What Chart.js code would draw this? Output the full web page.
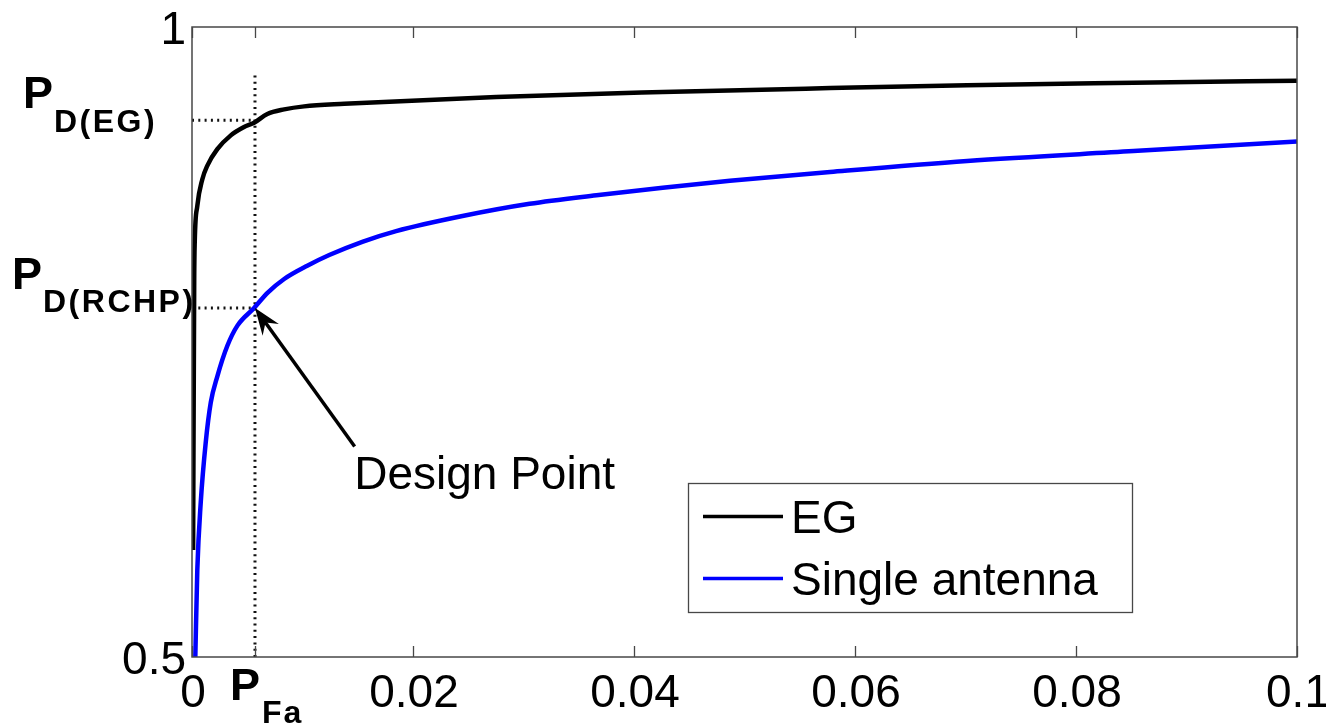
<!DOCTYPE html>
<html><head><meta charset="utf-8">
<script src="https://cdn.jsdelivr.net/npm/chart.js@4.4.1/dist/chart.umd.min.js"></script>
<style>html,body{margin:0;padding:0;background:#fff;overflow:hidden}canvas{display:block}</style>
</head><body>
<canvas id="c" width="1326" height="725"></canvas>
<script>
// ---- data ----
const egPfa = [0.0001, 0.0002, 0.00025, 0.00048, 0.00093, 0.00139, 0.00229, 0.00351, 0.00471, 0.00562, 0.00682, 0.00834, 0.01015, 0.01378, 0.02753, 0.0426, 0.05775, 0.07015, 0.0852, 0.1];
const egPd  = [0.585, 0.80, 0.83, 0.858, 0.879, 0.890, 0.903, 0.914, 0.9206, 0.924, 0.931, 0.9346, 0.937, 0.939, 0.9445, 0.9484, 0.9515, 0.9538, 0.9557, 0.9574];
const singlePfa = [0.0003, 0.00048, 0.00079, 0.00124, 0.0017, 0.0023, 0.0032, 0.00411, 0.00562, 0.00683, 0.00834, 0.01043, 0.01242, 0.01541, 0.01847, 0.02448, 0.03055, 0.0366, 0.0426, 0.04868, 0.05775, 0.07015, 0.0852, 0.1];
const singlePd  = [0.5, 0.569, 0.6225, 0.670, 0.702, 0.723, 0.747, 0.763, 0.777, 0.789, 0.800, 0.8105, 0.819, 0.8295, 0.838, 0.850, 0.8597, 0.8665, 0.8725, 0.8780, 0.8850, 0.8937, 0.9015, 0.9091];
const seriesNames = ['EG', 'Single antenna'];
const designPfa = 0.0057;
const designPdEG = 0.926;
const designPdRCHP = 0.777;
const guideTop = 0.964;
const xTickValues = [0, designPfa, 0.02, 0.04, 0.06, 0.08, 0.1];
const xTickLabels = ['0', 'P_{Fa}', '0.02', '0.04', '0.06', '0.08', '0.1'];
const yTickValues = [0.5, designPdRCHP, designPdEG, 1];
const yTickLabels = ['0.5', 'P_{D(RCHP)}', 'P_{D(EG)}', '1'];
const annotationText = 'Design Point';
const annotationAnchor = [0.01468, 0.633];
const arrowTail = [0.01472, 0.667];

// ---- styles ----
const FONT = '"Liberation Sans", Arial, Helvetica, sans-serif';
const AXIS_COLOR = '#474747';
const sty = {
  xLabelBaseline: 707,
  yLabelRight: 186,
  composite: {
    'P_{Fa}':      {dx: -25, mainBase: 700, subDx: 32, subBase: 723},
    'P_{D(RCHP)}': {x: 12, mainBase: 289, subDx: 31, subBase: 312},
    'P_{D(EG)}':   {x: 23, mainBase: 108, subDx: 31, subBase: 131.5}
  },
  legend: {left: 688, top: 483, width: 444, height: 129, lineX0: 703, lineX1: 783, textX: 791, rows: [533, 595]}
};

function parseLabel(s) {
  const m = s.match(/^(.*?)_\{(.*)\}$/);
  return m ? {main: m[1], sub: m[2]} : null;
}

const decor = {
  id: 'decor',
  afterDatasetsDraw(chart) {
    const {ctx, chartArea: a, scales: {x, y}} = chart;
    ctx.save();
    // box
    ctx.strokeStyle = AXIS_COLOR;
    ctx.lineWidth = 1.5;
    ctx.strokeRect(a.left, a.top, a.right - a.left, a.bottom - a.top);
    // inward x ticks top and bottom
    ctx.lineWidth = 1.3;
    xTickValues.forEach(v => {
      const px = Math.round(x.getPixelForValue(v)) + 0.5;
      ctx.beginPath();
      ctx.moveTo(px, a.bottom); ctx.lineTo(px, a.bottom - 11);
      ctx.moveTo(px, a.top); ctx.lineTo(px, a.top + 11);
      ctx.stroke();
    });
    ctx.fillStyle = '#000';
    // x tick labels
    xTickValues.forEach((v, i) => {
      const px = x.getPixelForValue(v);
      const lab = xTickLabels[i];
      const c = parseLabel(lab);
      if (c) {
        const s = sty.composite[lab];
        ctx.textAlign = 'left'; ctx.textBaseline = 'alphabetic';
        ctx.font = 'bold 45px ' + FONT;
        ctx.fillText(c.main, px + s.dx, s.mainBase);
        ctx.font = 'bold 32px ' + FONT;
        ctx.letterSpacing = '2px';
        ctx.fillText(c.sub, px + s.dx + s.subDx, s.subBase);
        ctx.letterSpacing = '0px';
      } else {
        ctx.font = '46px ' + FONT;
        ctx.textAlign = 'center'; ctx.textBaseline = 'alphabetic';
        ctx.fillText(lab, px + 1, sty.xLabelBaseline);
      }
    });
    // y tick labels
    yTickValues.forEach((v, i) => {
      const py = y.getPixelForValue(v);
      const lab = yTickLabels[i];
      const c = parseLabel(lab);
      if (c) {
        const s = sty.composite[lab];
        ctx.textAlign = 'left'; ctx.textBaseline = 'alphabetic';
        ctx.font = 'bold 45px ' + FONT;
        ctx.fillText(c.main, s.x, s.mainBase);
        ctx.font = 'bold 32px ' + FONT;
        ctx.letterSpacing = '2.5px';
        ctx.fillText(c.sub, s.x + s.subDx, s.subBase);
        ctx.letterSpacing = '0px';
      } else {
        ctx.font = '46px ' + FONT;
        ctx.textAlign = 'right'; ctx.textBaseline = 'alphabetic';
        ctx.fillText(lab, sty.yLabelRight, py + 16.5);
      }
    });
    // arrow annotation
    const tx = x.getPixelForValue(designPfa), ty = y.getPixelForValue(designPdRCHP);
    const sx = x.getPixelForValue(arrowTail[0]), sy = y.getPixelForValue(arrowTail[1]);
    const dx = sx - tx, dy = sy - ty, L = Math.hypot(dx, dy);
    const ux = dx / L, uy = dy / L, nx = -uy, ny = ux;
    ctx.strokeStyle = '#000';
    ctx.lineWidth = 3.5;
    ctx.beginPath();
    ctx.moveTo(sx, sy); ctx.lineTo(tx + ux * 16, ty + uy * 16);
    ctx.stroke();
    ctx.beginPath();
    ctx.moveTo(tx, ty);
    ctx.lineTo(tx + ux * 27 + nx * 10, ty + uy * 27 + ny * 10);
    ctx.lineTo(tx + ux * 18, ty + uy * 18);
    ctx.lineTo(tx + ux * 27 - nx * 10, ty + uy * 27 - ny * 10);
    ctx.closePath();
    ctx.fillStyle = '#000';
    ctx.fill();
    ctx.font = '46px ' + FONT;
    ctx.textAlign = 'left'; ctx.textBaseline = 'alphabetic';
    ctx.fillText(annotationText, x.getPixelForValue(annotationAnchor[0]), y.getPixelForValue(annotationAnchor[1]));
    // legend
    const lg = sty.legend;
    ctx.fillStyle = '#fff';
    ctx.fillRect(lg.left, lg.top, lg.width, lg.height);
    ctx.strokeStyle = AXIS_COLOR;
    ctx.lineWidth = 1.3;
    ctx.strokeRect(lg.left + 0.5, lg.top + 0.5, lg.width, lg.height);
    seriesNames.forEach((name, i) => {
      const ds = chart.data.datasets[i];
      const base = lg.rows[i];
      ctx.strokeStyle = ds.borderColor;
      ctx.lineWidth = 3.5;
      ctx.beginPath();
      ctx.moveTo(lg.lineX0, base - 16.5); ctx.lineTo(lg.lineX1, base - 16.5);
      ctx.stroke();
      ctx.fillStyle = '#000';
      ctx.font = '46px ' + FONT;
      ctx.fillText(name, lg.textX, base);
    });
    ctx.restore();
  }
};

const guideStyle = {borderColor: '#111', borderWidth: 3, borderDash: [2, 4.3], pointRadius: 0, fill: false};
new Chart(document.getElementById('c'), {
  type: 'line',
  data: {
    datasets: [
      {label: seriesNames[0], data: egPfa.map((v, i) => ({x: v, y: egPd[i]})), borderColor: '#000000', borderWidth: 4.5, pointRadius: 0, cubicInterpolationMode: 'monotone', fill: false, order: 1},
      {label: seriesNames[1], data: singlePfa.map((v, i) => ({x: v, y: singlePd[i]})), borderColor: '#0000ff', borderWidth: 4.5, pointRadius: 0, cubicInterpolationMode: 'monotone', fill: false, order: 2},
      Object.assign({label: 'g1', data: [{x: designPfa, y: 0.5}, {x: designPfa, y: guideTop}], order: 3}, guideStyle),
      Object.assign({label: 'g2', data: [{x: 0, y: designPdEG}, {x: designPfa, y: designPdEG}], order: 3}, guideStyle),
      Object.assign({label: 'g3', data: [{x: 0, y: designPdRCHP}, {x: designPfa, y: designPdRCHP}], order: 3}, guideStyle)
    ]
  },
  options: {
    responsive: false, animation: false, devicePixelRatio: 1,
    layout: {padding: {left: 192, right: 29, top: 27, bottom: 68}},
    plugins: {legend: {display: false}, tooltip: {enabled: false}},
    scales: {
      x: {type: 'linear', min: 0, max: 0.1, display: false},
      y: {type: 'linear', min: 0.5, max: 1, display: false}
    }
  },
  plugins: [decor]
});
</script>
</body></html>
